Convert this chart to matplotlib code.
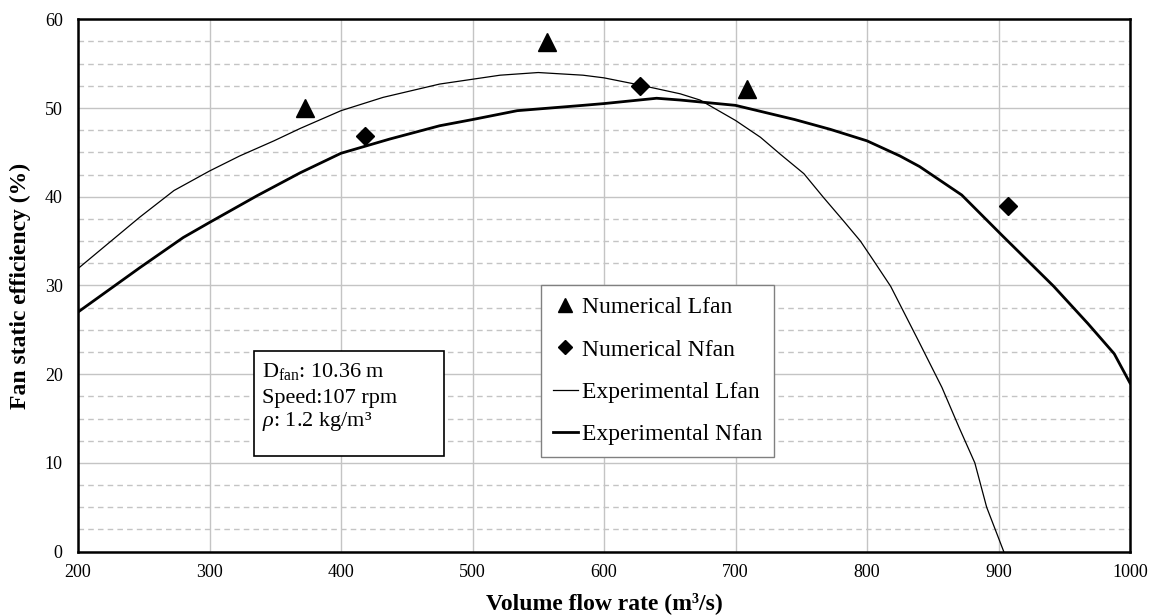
import matplotlib
matplotlib.use("Agg")
import matplotlib.pyplot as plt
from matplotlib.lines import Line2D
from matplotlib.patches import Rectangle

plt.rcParams['font.family'] = ['Liberation Serif', 'DejaVu Serif']
plt.rcParams['mathtext.fontset'] = 'custom'
plt.rcParams['mathtext.rm'] = 'Liberation Serif'
plt.rcParams['mathtext.it'] = 'Liberation Serif:italic'

# Numerical data (markers)
num_lfan_x = [373, 557, 709]
num_lfan_y = [50.0, 57.4, 52.1]
num_nfan_x = [418, 627, 907]
num_nfan_y = [46.9, 52.5, 39.0]

# Experimental curves
exp_lfan_x = [200, 247, 273, 300, 323, 349, 369, 400, 432, 475, 521, 550, 584, 600, 627, 658, 673,
              700, 719, 734, 752, 767, 782, 795, 805, 818, 839, 857, 870, 882, 891, 904]
exp_lfan_y = [31.9, 37.7, 40.7, 42.9, 44.6, 46.3, 47.7, 49.7, 51.2, 52.7, 53.7, 54.0, 53.7, 53.4, 52.6, 51.6, 50.9,
              48.6, 46.7, 44.8, 42.6, 39.9, 37.3, 35.0, 32.8, 29.9, 23.8, 18.5, 14.0, 10.0, 5.0, 0.0]

exp_nfan_x = [200, 247, 280, 300, 336, 369, 400, 437, 475, 500, 534, 584, 600, 640, 658, 700,
              745, 772, 800, 825, 840, 872, 903, 942, 968, 988, 1000]
exp_nfan_y = [27.0, 32.0, 35.4, 37.1, 40.1, 42.7, 44.9, 46.5, 48.0, 48.7, 49.7, 50.3, 50.5, 51.1, 50.9, 50.3,
              48.7, 47.6, 46.3, 44.6, 43.4, 40.2, 35.6, 29.9, 25.7, 22.3, 19.0]

x_ticks = [200, 300, 400, 500, 600, 700, 800, 900, 1000]
y_ticks = [0, 10, 20, 30, 40, 50, 60]

W, H = 1155, 615
fig = plt.figure(figsize=(W / 100, H / 100), dpi=100)
ax = fig.add_axes([78 / W, 1 - 551.6 / H, (1130 - 78) / W, (551.6 - 19.3) / H])

ax.set_xlim(200, 1000)
ax.set_ylim(0, 60)
ax.set_xticks(x_ticks)
ax.set_yticks(y_ticks)
ax.set_yticks([v + d for v in range(0, 60, 10) for d in (2.5, 5, 7.5)], minor=True)
ax.grid(which='major', color='#c4c4c4', linewidth=1.0, linestyle='-')
ax.grid(which='minor', axis='y', color='#c4c4c4', linewidth=1.0, linestyle=(0, (4, 3)))
ax.set_axisbelow(True)
ax.tick_params(which='both', length=0)
ax.tick_params(axis='y', pad=11, labelsize=13)
ax.tick_params(axis='x', pad=9, labelsize=13)
for s in ax.spines.values():
    s.set_linewidth(1.8)
    s.set_color('black')

ax.plot(exp_lfan_x, exp_lfan_y, color='black', linewidth=0.9, zorder=3,
        solid_joinstyle='round')
ax.plot(exp_nfan_x, exp_nfan_y, color='black', linewidth=2.0, zorder=3,
        solid_joinstyle='round')
ax.plot(num_lfan_x, num_lfan_y, linestyle='none', marker='^', markersize=12.5,
        color='black', zorder=4)
ax.plot(num_nfan_x, num_nfan_y, linestyle='none', marker='D', markersize=9,
        color='black', zorder=4)

ax.set_xlabel('Volume flow rate (m³/s)', fontsize=17, fontweight='bold', labelpad=8)
ax.set_ylabel('Fan static efficiency (%)', fontsize=17, fontweight='bold', labelpad=10)

handles = [
    Line2D([], [], linestyle='none', marker='^', markersize=10, color='black'),
    Line2D([], [], linestyle='none', marker='D', markersize=7, color='black'),
    Line2D([], [], color='black', linewidth=0.9),
    Line2D([], [], color='black', linewidth=2.0),
]
labels = ['Numerical Lfan', 'Numerical Nfan', 'Experimental Lfan', 'Experimental Nfan']
leg = fig.legend(handles, labels, loc='upper left',
                 bbox_to_anchor=(540.7 / W, 1 - 285 / H),
                 fontsize=17, frameon=True, fancybox=False, framealpha=1,
                 edgecolor='#808080', handlelength=1.1, handletextpad=0.15,
                 labelspacing=0.88, borderpad=0.5, borderaxespad=0)
leg.get_frame().set_linewidth(1.0)

# Info box
box = Rectangle((254 / W, 1 - 455.7 / H), (444 - 254) / W, (455.7 - 350.7) / H,
                transform=fig.transFigure, facecolor='white', edgecolor='black',
                linewidth=1.2, zorder=5)
fig.patches.append(box)
info_lines = [r'D$_{\mathrm{fan}}$: 10.36 m', 'Speed:107 rpm', r'$\it{\rho}$: 1.2 kg/m³']
info_base = [377, 403, 426]
for t, yb in zip(info_lines, info_base):
    fig.text(262 / W, 1 - yb / H, t, fontsize=16, ha='left', va='baseline', zorder=6)

fig.savefig('out.png', dpi=100)
